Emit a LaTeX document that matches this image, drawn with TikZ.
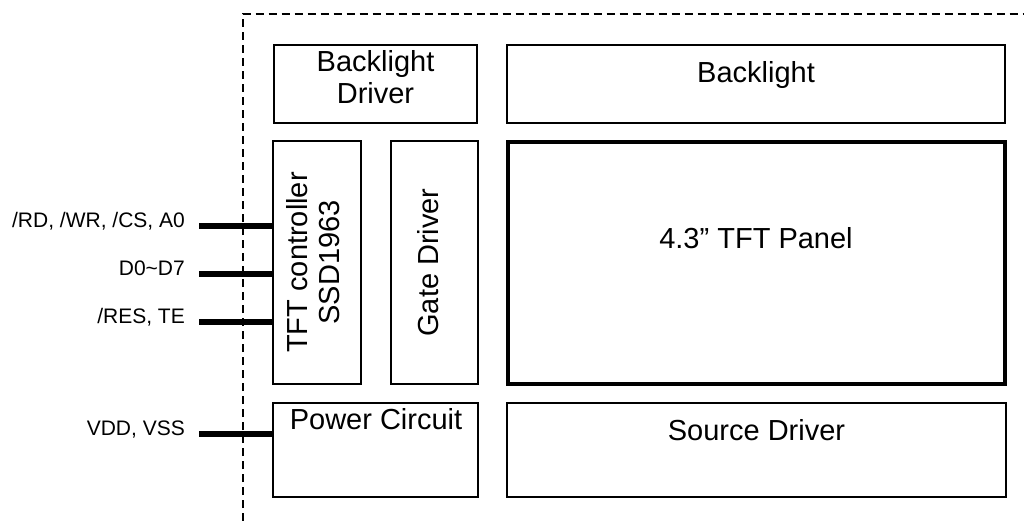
\documentclass[tikz,border=0pt]{standalone}
\usepackage{fontspec}
\setmainfont{Liberation Sans}
\begin{document}
\begin{tikzpicture}[x=1pt,y=-1pt,
  box/.style={draw, line width=2pt, rectangle, inner sep=0pt, outer sep=0pt, anchor=north west},
  thickbox/.style={box, line width=4pt},
  txt/.style={font=\fontsize{29}{32}\selectfont, inner sep=0pt, align=center},
  lbl/.style={font=\fontsize{21}{25}\selectfont, inner sep=0pt, anchor=base east},
  bus/.style={line width=6pt},
  border/.style={line width=2pt, dash pattern=on 8pt off 5pt}]
\fill[white] (0,0) rectangle (1024,521);
\useasboundingbox (0,0) rectangle (1024,521);
% dashed module border
\draw[border] (242.5,521) -- (242.5,14) -- (1024,14);
% boxes
\node[box, minimum width=203pt, minimum height=78pt] (bd) at (274,45) {};
\node[box, minimum width=498pt, minimum height=78pt] (bl) at (507,45) {};
\node[box, minimum width=88pt, minimum height=243pt] (tc) at (273,141) {};
\node[box, minimum width=87pt, minimum height=243pt] (gd) at (391,141) {};
\node[thickbox, minimum width=497pt, minimum height=242pt] (pn) at (508,142) {};
\node[box, minimum width=205pt, minimum height=94pt] (pc) at (273,403) {};
\node[box, minimum width=499pt, minimum height=94pt] (sd) at (507,403) {};
% texts
\node[txt, anchor=north] (bdt) at (375.5,49.9) {Backlight\\Driver};
\node[txt, anchor=north] (blt) at (756,60.9) {Backlight};
\node[txt, anchor=north] (pnt) at (756,226.9) {4.3” TFT Panel};
\node[txt, anchor=north] (pct) at (376,407.9) {Power Circuit};
\node[txt, anchor=north] (sdt) at (756.5,418.9) {Source Driver};
\node[txt, rotate=90, anchor=north] (tct) at (286,262.5) {TFT controller\\SSD1963};
\node[txt, rotate=90, anchor=north] (gdt) at (417,262.5) {Gate Driver};
% signal labels
\node[lbl] (l1) at (185,227.5) {/RD, /WR, /CS, A0};
\node[lbl] (l2) at (185,275) {D0\string~D7};
\node[lbl] (l3) at (185,323) {/RES, TE};
\node[lbl] (l4) at (185,435) {VDD, VSS};
% bus lines
\coordinate (p1) at (199,226);
\coordinate (p2) at (199,273.5);
\coordinate (p3) at (199,321.5);
\coordinate (p4) at (199,433.5);
\draw[bus] (p1) -- (tc.west |- p1);
\draw[bus] (p2) -- (tc.west |- p2);
\draw[bus] (p3) -- (tc.west |- p3);
\draw[bus] (p4) -- (pc.west |- p4);
\end{tikzpicture}
\end{document}
